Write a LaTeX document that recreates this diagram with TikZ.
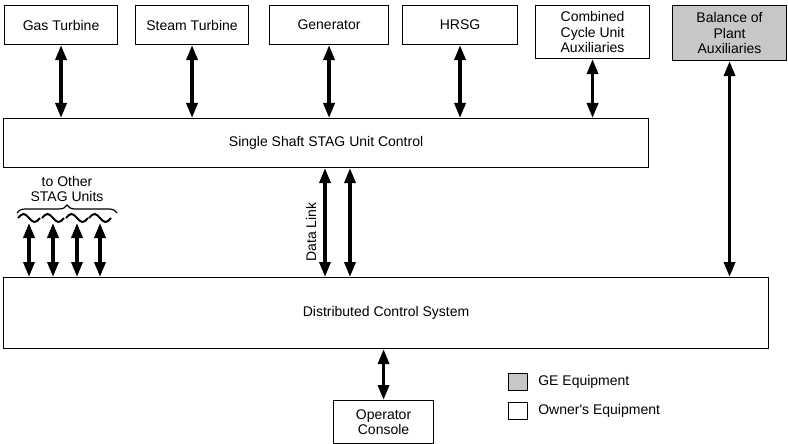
\documentclass[tikz,border=0pt]{standalone}
\usepackage{fontspec}
\setmainfont{Liberation Sans}
\usetikzlibrary{arrows.meta,decorations.pathreplacing,patterns}
\begin{document}
\begin{tikzpicture}[x=1pt,y=-1pt,
  box/.style={draw,line width=1.1pt,anchor=north west,inner sep=0pt,align=center,
    font=\fontsize{14}{15.5}\selectfont},
  ge/.style={box,fill=black!22},
  dbl/.style={line width=3.4pt,{Triangle[length=15pt,width=11pt]}-{Triangle[length=15pt,width=11pt]}},
  lbl/.style={font=\fontsize{14}{15}\selectfont,inner sep=0pt,align=center},
  wave/.style={line width=2pt}]
\useasboundingbox (0,0) rectangle (788,444);
% top boxes
\node[box,minimum width=113pt,minimum height=39pt] (gt) at (4,5) {Gas Turbine};
\node[box,minimum width=113pt,minimum height=39pt] (st) at (135,5) {Steam Turbine};
\node[box,minimum width=119pt,minimum height=39pt] (gen) at (269,5) {Generator};
\node[box,minimum width=115pt,minimum height=39pt] (hrsg) at (402,5) {HRSG};
\node[box,minimum width=114pt,minimum height=53pt] (ccu) at (535,5) {Combined\\Cycle Unit\\Auxiliaries};
\node[ge,minimum width=114pt,minimum height=55pt] (bop) at (672,5) {Balance of\\Plant\\Auxiliaries};
% main boxes
\node[box,minimum width=645pt,minimum height=49pt] (ssc) at (3,118) {Single Shaft STAG Unit Control};
\node[box,minimum width=765pt,minimum height=71pt] (dcs) at (3,277) {Distributed Control System};
\node[box,minimum width=100pt,minimum height=43pt] (op) at (333,400) {Operator\\Console};
% arrows top
\foreach \n in {gt,st,gen,hrsg,ccu}
  \draw[dbl] (\n.south) -- (\n.south |- ssc.north);
\draw[dbl] (bop.south) -- (bop.south |- dcs.north);
% data link
\coordinate (dl1) at (325,167);
\coordinate (dl2) at (350,167);
\draw[dbl] (dl1 |- ssc.south) -- (dl1 |- dcs.north);
\draw[dbl] (dl2 |- ssc.south) -- (dl2 |- dcs.north);
\node[lbl,rotate=90] (dltext) at (311,232) {Data Link};
% operator console
\draw[dbl] (op.north |- dcs.south) -- (op.north);
% other STAG units
\node[lbl] (other) at (67,189) {to Other\\STAG Units};
\draw[line width=1.2pt,decorate,decoration={brace,amplitude=8pt}] (17,213) -- (117,213);
\foreach \x [count=\i] in {29,53,77,100}{
  \coordinate (w\i) at (\x,223);
  \draw[wave] (\x-11,218) sin (\x-5.5,214) cos (\x,218) sin (\x+5.5,222) cos (\x+11,218);
  \draw[dbl] (w\i) -- (w\i |- dcs.north);
}
% legend
\node[ge,minimum width=19pt,minimum height=17pt] (lge) at (508,373) {};
\node[box,minimum width=19pt,minimum height=17pt] (low) at (508,402) {};
\node[lbl,anchor=west] (tge) at ([xshift=10pt]lge.east) {GE Equipment};
\node[lbl,anchor=west] (tow) at ([xshift=10pt]low.east) {Owner\textquotesingle s Equipment};
\end{tikzpicture}
\end{document}
